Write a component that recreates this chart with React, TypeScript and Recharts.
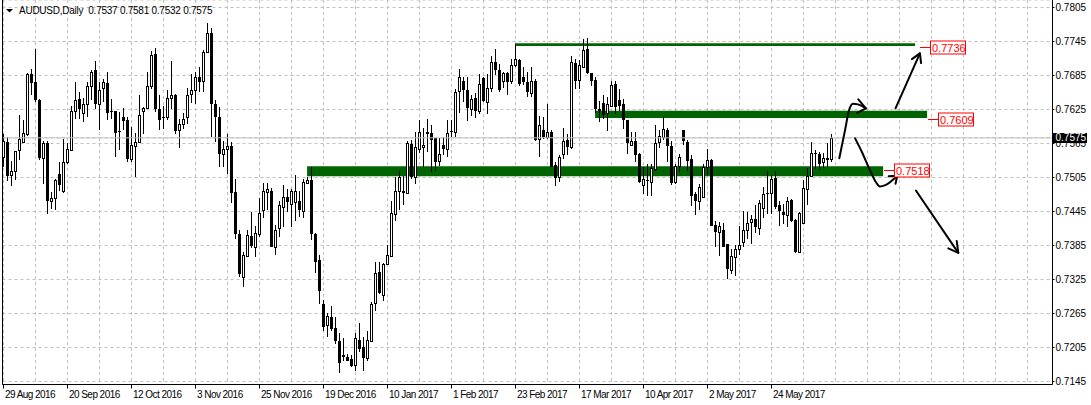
import React from 'react';
import {
  ComposedChart, Bar, Line, XAxis, YAxis, CartesianGrid,
  ReferenceArea, ReferenceLine, ReferenceDot,
} from 'recharts';

// ---- data (AUDUSD daily, bar index 0 = 29 Aug 2016) ----
const opens = [
  0.7541, 0.7567, 0.7510, 0.7516, 0.7553, 0.7567, 0.7581, 0.7688, 0.7674, 0.7642,
  0.7539, 0.7565, 0.7463, 0.7469, 0.7512, 0.7481, 0.7532, 0.7554, 0.7623, 0.7644,
  0.7618, 0.7635, 0.7666, 0.7694, 0.7635, 0.7663, 0.7672, 0.7623, 0.7622, 0.7587,
  0.7611, 0.7607, 0.7538, 0.7560, 0.7567, 0.7622, 0.7628, 0.7666, 0.7723, 0.7626,
  0.7611, 0.7611, 0.7646, 0.7650, 0.7589, 0.7599, 0.7611, 0.7653, 0.7660, 0.7683,
  0.7675, 0.7727, 0.7760, 0.7634, 0.7612, 0.7546, 0.7555, 0.7560, 0.7480, 0.7406,
  0.7330, 0.7367, 0.7401, 0.7383, 0.7406, 0.7447, 0.7480, 0.7482, 0.7383, 0.7415,
  0.7453, 0.7470, 0.7459, 0.7461, 0.7464, 0.7445, 0.7496, 0.7500, 0.7406, 0.7359,
  0.7281, 0.7244, 0.7259, 0.7239, 0.7216, 0.7191, 0.7189, 0.7185, 0.7175, 0.7219,
  0.7206, 0.7186, 0.7217, 0.7283, 0.7338, 0.7297, 0.7353, 0.7367, 0.7440, 0.7482,
  0.7481, 0.7477, 0.7564, 0.7506, 0.7556, 0.7558, 0.7585, 0.7583, 0.7574, 0.7534,
  0.7562, 0.7555, 0.7587, 0.7585, 0.7657, 0.7676, 0.7659, 0.7626, 0.7646, 0.7623,
  0.7681, 0.7638, 0.7663, 0.7708, 0.7694, 0.7675, 0.7689, 0.7675, 0.7703, 0.7713,
  0.7682, 0.7673, 0.7654, 0.7676, 0.7573, 0.7589, 0.7576, 0.7586, 0.7527, 0.7506,
  0.7547, 0.7572, 0.7558, 0.7707, 0.7677, 0.7700, 0.7732, 0.7689, 0.7677, 0.7626,
  0.7636, 0.7618, 0.7632, 0.7670, 0.7641, 0.7634, 0.7606, 0.7563, 0.7570, 0.7547,
  0.7492, 0.7501, 0.7497, 0.7520, 0.7567, 0.7576, 0.7589, 0.7560, 0.7497, 0.7526,
  0.7588, 0.7567, 0.7538, 0.7475, 0.7463, 0.7470, 0.7524, 0.7536, 0.7422, 0.7409,
  0.7413, 0.7387, 0.7341, 0.7365, 0.7378, 0.7391, 0.7412, 0.7426, 0.7432, 0.7416,
  0.7452, 0.7477, 0.7477, 0.7504, 0.7456, 0.7444, 0.7438, 0.7466, 0.7430, 0.7373,
  0.7424, 0.7485, 0.7507, 0.7549, 0.7547, 0.7532, 0.7540, 0.7537,
];
const highs = [
  0.7582, 0.7576, 0.7534, 0.7542, 0.7616, 0.7606, 0.7689, 0.7697, 0.7732, 0.7643,
  0.7570, 0.7570, 0.7479, 0.7503, 0.7532, 0.7573, 0.7566, 0.7632, 0.7674, 0.7656,
  0.7646, 0.7673, 0.7694, 0.7710, 0.7673, 0.7679, 0.7691, 0.7644, 0.7623, 0.7620,
  0.7628, 0.7611, 0.7594, 0.7583, 0.7650, 0.7629, 0.7691, 0.7728, 0.7734, 0.7650,
  0.7632, 0.7659, 0.7710, 0.7653, 0.7609, 0.7619, 0.7663, 0.7687, 0.7691, 0.7700,
  0.7730, 0.7778, 0.7769, 0.7641, 0.7630, 0.7570, 0.7581, 0.7567, 0.7502, 0.7413,
  0.7373, 0.7413, 0.7444, 0.7419, 0.7468, 0.7495, 0.7495, 0.7486, 0.7422, 0.7464,
  0.7491, 0.7484, 0.7484, 0.7509, 0.7481, 0.7503, 0.7506, 0.7524, 0.7407, 0.7369,
  0.7288, 0.7266, 0.7279, 0.7258, 0.7230, 0.7221, 0.7193, 0.7191, 0.7230, 0.7248,
  0.7223, 0.7235, 0.7285, 0.7356, 0.7356, 0.7354, 0.7385, 0.7464, 0.7505, 0.7517,
  0.7507, 0.7569, 0.7572, 0.7585, 0.7607, 0.7592, 0.7609, 0.7597, 0.7575, 0.7575,
  0.7576, 0.7606, 0.7606, 0.7662, 0.7696, 0.7682, 0.7682, 0.7650, 0.7654, 0.7688,
  0.7682, 0.7688, 0.7719, 0.7732, 0.7706, 0.7691, 0.7691, 0.7714, 0.7740, 0.7714,
  0.7700, 0.7691, 0.7700, 0.7679, 0.7613, 0.7611, 0.7634, 0.7588, 0.7532, 0.7544,
  0.7593, 0.7582, 0.7719, 0.7714, 0.7713, 0.7750, 0.7752, 0.7690, 0.7682, 0.7640,
  0.7650, 0.7647, 0.7675, 0.7676, 0.7662, 0.7644, 0.7607, 0.7586, 0.7585, 0.7548,
  0.7523, 0.7529, 0.7528, 0.7597, 0.7588, 0.7611, 0.7593, 0.7570, 0.7528, 0.7546,
  0.7589, 0.7571, 0.7544, 0.7479, 0.7494, 0.7528, 0.7556, 0.7538, 0.7429, 0.7426,
  0.7424, 0.7388, 0.7378, 0.7385, 0.7420, 0.7446, 0.7444, 0.7438, 0.7456, 0.7466,
  0.7488, 0.7517, 0.7509, 0.7517, 0.7464, 0.7459, 0.7470, 0.7467, 0.7432, 0.7444,
  0.7501, 0.7522, 0.7567, 0.7553, 0.7550, 0.7548, 0.7566, 0.7581,
];
const lows = [
  0.7523, 0.7499, 0.7490, 0.7500, 0.7536, 0.7565, 0.7579, 0.7650, 0.7638, 0.7535,
  0.7494, 0.7441, 0.7450, 0.7447, 0.7482, 0.7477, 0.7529, 0.7553, 0.7609, 0.7609,
  0.7603, 0.7611, 0.7642, 0.7625, 0.7588, 0.7638, 0.7606, 0.7609, 0.7542, 0.7553,
  0.7588, 0.7532, 0.7533, 0.7506, 0.7565, 0.7582, 0.7625, 0.7662, 0.7620, 0.7588,
  0.7591, 0.7606, 0.7626, 0.7582, 0.7557, 0.7591, 0.7600, 0.7636, 0.7635, 0.7656,
  0.7656, 0.7726, 0.7577, 0.7567, 0.7523, 0.7524, 0.7512, 0.7460, 0.7397, 0.7330,
  0.7311, 0.7364, 0.7380, 0.7364, 0.7400, 0.7433, 0.7447, 0.7382, 0.7369, 0.7400,
  0.7417, 0.7444, 0.7417, 0.7429, 0.7436, 0.7433, 0.7494, 0.7394, 0.7336, 0.7281,
  0.7235, 0.7223, 0.7234, 0.7212, 0.7160, 0.7182, 0.7181, 0.7170, 0.7164, 0.7197,
  0.7164, 0.7182, 0.7216, 0.7270, 0.7300, 0.7287, 0.7350, 0.7365, 0.7429, 0.7447,
  0.7457, 0.7475, 0.7502, 0.7494, 0.7548, 0.7523, 0.7550, 0.7514, 0.7517, 0.7526,
  0.7544, 0.7541, 0.7576, 0.7576, 0.7619, 0.7638, 0.7604, 0.7614, 0.7610, 0.7617,
  0.7638, 0.7617, 0.7656, 0.7685, 0.7656, 0.7663, 0.7650, 0.7670, 0.7700, 0.7667,
  0.7669, 0.7647, 0.7647, 0.7570, 0.7541, 0.7573, 0.7573, 0.7523, 0.7490, 0.7497,
  0.7538, 0.7544, 0.7556, 0.7662, 0.7662, 0.7700, 0.7688, 0.7666, 0.7618, 0.7603,
  0.7609, 0.7587, 0.7629, 0.7617, 0.7623, 0.7591, 0.7546, 0.7560, 0.7532, 0.7495,
  0.7475, 0.7472, 0.7472, 0.7517, 0.7557, 0.7572, 0.7532, 0.7491, 0.7493, 0.7514,
  0.7562, 0.7517, 0.7454, 0.7438, 0.7447, 0.7469, 0.7509, 0.7419, 0.7382, 0.7366,
  0.7382, 0.7326, 0.7334, 0.7332, 0.7369, 0.7383, 0.7397, 0.7387, 0.7407, 0.7404,
  0.7434, 0.7441, 0.7441, 0.7450, 0.7420, 0.7423, 0.7417, 0.7426, 0.7372, 0.7371,
  0.7423, 0.7456, 0.7506, 0.7520, 0.7519, 0.7522, 0.7524, 0.7532,
];
const closes = [
  0.7569, 0.7507, 0.7517, 0.7551, 0.7573, 0.7584, 0.7688, 0.7671, 0.7642, 0.7539,
  0.7566, 0.7463, 0.7469, 0.7500, 0.7492, 0.7533, 0.7556, 0.7623, 0.7642, 0.7625,
  0.7635, 0.7666, 0.7692, 0.7635, 0.7659, 0.7674, 0.7619, 0.7620, 0.7583, 0.7586,
  0.7604, 0.7538, 0.7562, 0.7567, 0.7616, 0.7628, 0.7666, 0.7722, 0.7625, 0.7607,
  0.7610, 0.7646, 0.7651, 0.7587, 0.7600, 0.7609, 0.7651, 0.7660, 0.7682, 0.7673,
  0.7727, 0.7760, 0.7634, 0.7612, 0.7546, 0.7555, 0.7560, 0.7477, 0.7406, 0.7334,
  0.7369, 0.7403, 0.7384, 0.7407, 0.7443, 0.7482, 0.7484, 0.7383, 0.7413, 0.7456,
  0.7470, 0.7461, 0.7482, 0.7482, 0.7447, 0.7497, 0.7500, 0.7406, 0.7356, 0.7304,
  0.7242, 0.7260, 0.7237, 0.7216, 0.7177, 0.7188, 0.7182, 0.7173, 0.7221, 0.7202,
  0.7186, 0.7219, 0.7281, 0.7337, 0.7301, 0.7353, 0.7369, 0.7442, 0.7482, 0.7506,
  0.7477, 0.7566, 0.7506, 0.7559, 0.7585, 0.7562, 0.7581, 0.7572, 0.7532, 0.7547,
  0.7555, 0.7584, 0.7585, 0.7656, 0.7682, 0.7660, 0.7627, 0.7644, 0.7623, 0.7670,
  0.7640, 0.7663, 0.7708, 0.7695, 0.7659, 0.7689, 0.7673, 0.7703, 0.7714, 0.7670,
  0.7673, 0.7656, 0.7676, 0.7572, 0.7597, 0.7577, 0.7586, 0.7524, 0.7504, 0.7541,
  0.7570, 0.7558, 0.7708, 0.7675, 0.7704, 0.7730, 0.7689, 0.7675, 0.7625, 0.7622,
  0.7615, 0.7634, 0.7669, 0.7630, 0.7632, 0.7606, 0.7565, 0.7570, 0.7545, 0.7497,
  0.7503, 0.7499, 0.7522, 0.7566, 0.7579, 0.7591, 0.7560, 0.7495, 0.7526, 0.7542,
  0.7569, 0.7534, 0.7472, 0.7463, 0.7489, 0.7523, 0.7535, 0.7420, 0.7409, 0.7420,
  0.7383, 0.7343, 0.7367, 0.7378, 0.7385, 0.7413, 0.7424, 0.7432, 0.7417, 0.7460,
  0.7476, 0.7475, 0.7503, 0.7453, 0.7445, 0.7438, 0.7464, 0.7428, 0.7373, 0.7442,
  0.7487, 0.7507, 0.7548, 0.7547, 0.7529, 0.7540, 0.7536, 0.7575,
];

const symbolTitle = 'AUDUSD,Daily';
const dateLabels = [
  '29 Aug 2016', '20 Sep 2016', '12 Oct 2016', '3 Nov 2016', '25 Nov 2016',
  '19 Dec 2016', '10 Jan 2017', '1 Feb 2017', '23 Feb 2017', '17 Mar 2017',
  '10 Apr 2017', '2 May 2017', '24 May 2017',
];
const dateLabelStep = 16;
const xGridTicks = [
  0, 8, 16, 24, 32, 40, 48, 56, 64, 72, 80, 88, 96, 104, 112, 120, 128,
  136, 144, 152, 160, 168, 176, 184, 192, 200, 208, 216, 224, 232, 240, 248, 256,
];
const priceTicks = [
  0.7145, 0.7205, 0.7265, 0.7325, 0.7385, 0.7445, 0.7505, 0.7565,
  0.7625, 0.7685, 0.7745, 0.7805,
];
const lastPrice = 0.7575;
const xDomain = [-0.25, 262.25];
const yDomain = [0.7139706, 0.7818235];

// support / resistance zones (bar index, price)
const zones = [
  { x1: 127.9, x2: 227.9, y1: 0.7737, y2: 0.7742 },
  { x1: 147.9, x2: 230.9, y1: 0.7610, y2: 0.7623 },
  { x1: 75.9, x2: 219.9, y1: 0.7507, y2: 0.7525 },
];
const levelLabels = [
  { x: 229.1, y: 0.7736, text: '0.7736' },
  { x: 231.2, y: 0.7609, text: '0.7609' },
  { x: 220.1, y: 0.7518, text: '0.7518' },
];

// hand-drawn scenario arrows (bar index, price)
const arrowUpCurve = [
  { i: 208.95, v: 0.7539 }, { i: 210.4, v: 0.7589 }, { i: 211.4, v: 0.7624 },
  { i: 212.4, v: 0.7635 }, { i: 213.6, v: 0.7634 }, { i: 215.6, v: 0.7627 },
];
const arrowUpCurveHead = [
  { i: 213.7, v: 0.7643 }, { i: 215.6, v: 0.7627 }, { i: 213.4, v: 0.7619 },
];
const arrowUpStraight = [{ i: 223.0, v: 0.7627 }, { i: 229.1, v: 0.7724 }];
const arrowUpStraightHead = [
  { i: 227.1, v: 0.7714 }, { i: 229.1, v: 0.7724 }, { i: 229.4, v: 0.7707 },
];
const arrowDownCurve = [
  { i: 212.9, v: 0.7574 }, { i: 214.6, v: 0.7550 }, { i: 216.6, v: 0.7518 },
  { i: 218.1, v: 0.7497 }, { i: 219.1, v: 0.7489 }, { i: 220.6, v: 0.7492 },
  { i: 223.45, v: 0.7508 },
];
const arrowDownCurveHead = [
  { i: 221.3, v: 0.7507 }, { i: 223.45, v: 0.7508 }, { i: 223.0, v: 0.7494 },
];
const arrowDownStraight = [{ i: 228.1, v: 0.7482 }, { i: 238.7, v: 0.7372 }];
const arrowDownStraightHead = [
  { i: 236.2, v: 0.7380 }, { i: 238.7, v: 0.7372 }, { i: 238.3, v: 0.7393 },
];

const candles = opens.map((o, i) => ({
  i, o, h: highs[i], l: lows[i], c: closes[i], range: [lows[i], highs[i]],
}));

const FONT = '"Liberation Sans", Arial, sans-serif';

const Candle = (props: any) => {
  const { x, y, width, height, payload } = props;
  if (!payload || x == null || y == null) return <g />;
  const { o, h, l, c } = payload;
  const col = Math.floor(x + width / 2);
  const k = h > l ? height / (h - l) : 0;
  const py = (p: number) => y + (h - p) * k;
  const yo = py(o);
  const yc = py(c);
  const top = Math.round(Math.min(yo, yc));
  const bot = Math.round(Math.max(yo, yc));
  const wt = Math.round(y);
  const wb = Math.round(y + height);
  return (
    <g>
      <rect x={col} y={wt} width={1} height={Math.max(wb - wt, 1)} fill="#000" />
      {c >= o ? (
        <rect x={col - 0.5} y={top + 0.5} width={2} height={Math.max(bot - top, 1)}
          fill="#fff" stroke="#000" strokeWidth={1} />
      ) : (
        <rect x={col - 1} y={top} width={3} height={Math.max(bot - top, 1)} fill="#000" />
      )}
    </g>
  );
};

const DateTick = (props: any) => {
  const { x, y, payload } = props;
  const v = payload?.value;
  if (v == null || v % dateLabelStep !== 0) return <g />;
  const label = dateLabels[v / dateLabelStep];
  if (!label) return <g />;
  return (
    <g>
      <line x1={x} x2={x} y1={y} y2={y + 4} stroke="#000" strokeWidth={1} />
      <text x={x + 1.5} y={y + 13} fontSize={10} fontFamily={FONT} fill="#000"
        letterSpacing={-0.55}>{label}</text>
    </g>
  );
};

const PriceTick = (props: any) => {
  const { x, y, payload } = props;
  const v = payload?.value;
  if (v == null) return <g />;
  if (v === lastPrice) {
    return (
      <g>
        <rect x={x + 0.5} y={Math.round(y) - 5} width={34} height={10} fill="#000" />
        <text x={x + 3} y={y + 3.5} fontSize={10} fontFamily={FONT} fill="#fff">{v.toFixed(4)}</text>
      </g>
    );
  }
  return (
    <g>
      <line x1={x} x2={x + 2} y1={y} y2={y} stroke="#000" strokeWidth={1} />
      <text x={x + 3} y={y + 3.5} fontSize={10} fontFamily={FONT} fill="#000">{v.toFixed(4)}</text>
    </g>
  );
};

const LevelLabel = (props: any) => {
  const { cx, cy, text } = props;
  if (cx == null || cy == null) return <g />;
  const yy = Math.round(cy) + 0.5;
  const x0 = Math.round(cx);
  return (
    <g>
      <line x1={x0} x2={x0 + 10} y1={yy} y2={yy} stroke="#ff0000" strokeWidth={1} />
      <rect x={x0 + 10.5} y={yy - 6.5} width={35} height={13} fill="#fff" stroke="#ff0000" strokeWidth={1} />
      <text x={x0 + 12} y={yy + 4} fontSize={11} fontFamily={FONT} fill="#ff0000">{text}</text>
    </g>
  );
};

const arrowProps = {
  stroke: '#000', strokeWidth: 2, dot: false, activeDot: false,
  isAnimationActive: false, legendType: 'none' as const, dataKey: 'v',
  strokeLinecap: 'round' as const, strokeLinejoin: 'round' as const,
};

export default function App() {
  const last = candles[candles.length - 1];
  return (
    <div style={{ position: 'absolute', left: 0, top: 0, width: 1091, height: 405, background: '#fff' }}>
      <ComposedChart width={1091} height={405} data={candles}
        margin={{ top: 0, right: 0, bottom: 0, left: 2.5 }}>
        <CartesianGrid stroke="#c0c0c0" strokeDasharray="3 3" />
        <XAxis type="number" dataKey="i" domain={xDomain} allowDataOverflow
          ticks={xGridTicks} interval={0} tick={<DateTick />} tickLine={false}
          tickSize={0} tickMargin={0} height={20.5} axisLine={{ stroke: '#000' }} />
        <YAxis orientation="right" domain={yDomain} allowDataOverflow
          ticks={[...priceTicks, lastPrice]} interval={0} tick={<PriceTick />}
          tickLine={false} tickSize={0} tickMargin={0} width={38.5}
          axisLine={{ stroke: '#000' }} />
        <ReferenceLine y={lastPrice} stroke="#c0c0c0" strokeWidth={1} />
        <ReferenceLine x={xDomain[0]} stroke="#000" strokeWidth={1} />
        {zones.map((z, k) => (
          <ReferenceArea key={k} x1={z.x1} x2={z.x2} y1={z.y1} y2={z.y2}
            fill="#006400" fillOpacity={1} stroke="none" />
        ))}
        <Bar dataKey="range" barSize={3} shape={<Candle />} isAnimationActive={false} />
        <Line {...arrowProps} data={arrowUpCurve} type="monotone" />
        <Line {...arrowProps} data={arrowUpCurveHead} type="linear" />
        <Line {...arrowProps} data={arrowUpStraight} type="linear" />
        <Line {...arrowProps} data={arrowUpStraightHead} type="linear" />
        <Line {...arrowProps} data={arrowDownCurve} type="monotone" />
        <Line {...arrowProps} data={arrowDownCurveHead} type="linear" />
        <Line {...arrowProps} data={arrowDownStraight} type="linear" />
        <Line {...arrowProps} data={arrowDownStraightHead} type="linear" />
        {levelLabels.map((lb, k) => (
          <ReferenceDot key={k} x={lb.x} y={lb.y} r={0} ifOverflow="visible"
            shape={(p: any) => <LevelLabel {...p} text={lb.text} />} />
        ))}
      </ComposedChart>
      <svg width={320} height={20} style={{ position: 'absolute', left: 0, top: 0 }}>
        <polygon points="6,9 13,9 9.5,12.5" fill="#000" />
        <text x={19} y={14} fontSize={10} fontFamily={FONT} fill="#000" letterSpacing={-0.25}
          style={{ whiteSpace: 'pre' }}>
          {`${symbolTitle}  ${last.o.toFixed(4)} ${last.h.toFixed(4)} ${last.l.toFixed(4)} ${last.c.toFixed(4)}`}
        </text>
      </svg>
    </div>
  );
}
